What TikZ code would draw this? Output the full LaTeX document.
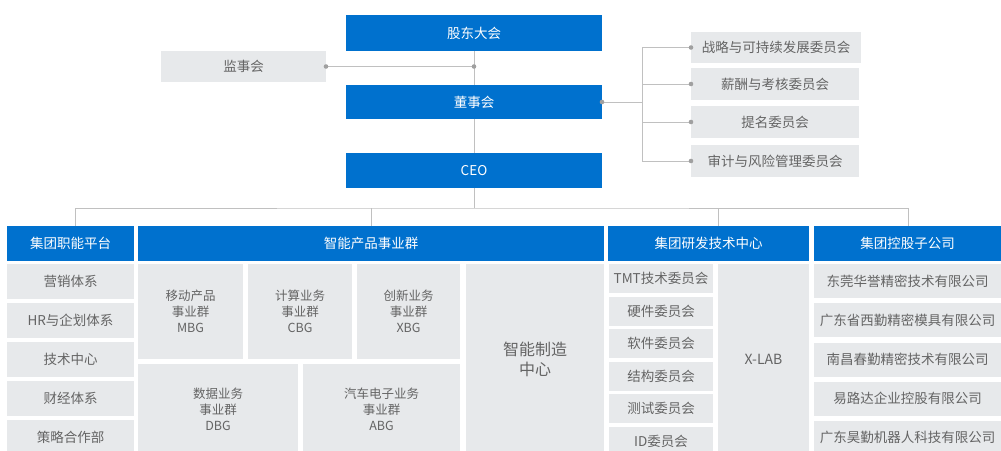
\documentclass[tikz,border=0pt]{standalone}
\usepackage{fontspec}
\setmainfont{Noto Sans CJK SC}
\usetikzlibrary{positioning}
\definecolor{hwblue}{RGB}{0,113,206}
\definecolor{hwgray}{RGB}{231,233,235}
\definecolor{hwtext}{RGB}{100,100,100}
\definecolor{hwline}{RGB}{192,192,192}
\definecolor{hwdot}{RGB}{160,160,160}
\newcommand{\fs}[2]{\fontsize{#1}{#2}\selectfont}
\tikzstyle{every node}=[inner sep=0, outer sep=0, align=center]
\tikzstyle{bluebox}=[fill=hwblue, text=white, font=\fs{13.5}{16}]
\tikzstyle{graybox}=[fill=hwgray, text=hwtext, font=\fs{13.5}{16}]
\tikzstyle{conn}=[hwline, line width=1pt]

\begin{document}
\begin{tikzpicture}[x=1pt, y=-1pt]
    \useasboundingbox (0,0) rectangle (1001,450);
    \node[bluebox, minimum width=256, minimum height=36] (gd) at (474,33) {股东大会};
    \node[graybox, minimum width=165, minimum height=31] (jsh) at (243.5,66.5) {监事会};
    \node[bluebox, minimum width=256, minimum height=34] (dsh) at (474,102) {董事会};
    \node[bluebox, minimum width=256, minimum height=35] (ceo) at (474,170.5) {CEO};
    \coordinate (jct) at (gd.south |- jsh.east);
    \draw[conn] (gd.south) -- (dsh.north);
    \draw[conn] (dsh.south) -- (ceo.north);
    \draw[conn] (jsh.east) -- (jct);
    \fill[hwdot] (jsh.east) circle (2.3);
    \fill[hwdot] (jct) circle (2.3);
    \node[graybox, minimum width=170, minimum height=31] (c1) at (776,47.5) {战略与可持续发展委员会};
    \node[graybox, minimum width=168, minimum height=32] (c2) at (775,84) {薪酬与考核委员会};
    \node[graybox, minimum width=168, minimum height=32] (c3) at (775,122) {提名委员会};
    \node[graybox, minimum width=168, minimum height=32] (c4) at (775,161) {审计与风险管理委员会};
    \coordinate (cb) at (642,102);
    \draw[conn] (dsh.east) -- (cb);
    \draw[conn] (cb |- c1.west) -- (cb |- c4.west);
    \foreach \c in {c1,c2,c3,c4} {
        \draw[conn] (cb |- \c.west) -- (\c.west);
        \fill[hwdot] (\c.west) circle (2.3);
    }
    \fill[hwdot] (dsh.east) circle (2.3);
    \node[bluebox, minimum width=127, minimum height=35] (h1) at (70.5,243.5) {集团职能平台};
    \node[bluebox, minimum width=466, minimum height=35] (h2) at (371,243.5) {智能产品事业群};
    \node[bluebox, minimum width=201, minimum height=35] (h3) at (708.5,243.5) {集团研发技术中心};
    \node[bluebox, minimum width=187, minimum height=35] (h4) at (907.5,243.5) {集团控股子公司};
    \coordinate (bus) at (474,208);
    \draw[conn] (ceo.south) -- (bus);
    \draw[conn] ([xshift=5]h1.north) |- (bus) -| ([xshift=1]h4.north);
    \draw[conn] (h2.north) -- ++(0,-18);
    \draw[conn] ([xshift=10]h3.north) -- ++(0,-18);
    \foreach \t/\y [count=\i] in {营销体系/281, HR与企划体系/320.5, 技术中心/359.5, 财经体系/398.5, 策略合作部/437.5}
        \node[graybox, minimum width=127, minimum height=35] (f\i) at (70.5,\y) {\t};
    \node[graybox, font=\fs{12.5}{16}, minimum width=105, minimum height=95] (mbg) at (190.5,311.5) {移动产品\\事业群\\MBG};
    \node[graybox, font=\fs{12.5}{16}, minimum width=104, minimum height=95] (cbg) at (300,311.5) {计算业务\\事业群\\CBG};
    \node[graybox, font=\fs{12.5}{16}, minimum width=103, minimum height=95] (xbg) at (408.5,311.5) {创新业务\\事业群\\XBG};
    \node[graybox, font=\fs{12.5}{16}, minimum width=160, minimum height=91] (dbg) at (218,409.5) {数据业务\\事业群\\DBG};
    \node[graybox, font=\fs{12.5}{16}, minimum width=157, minimum height=91] (abg) at (381.5,409.5) {汽车电子业务\\事业群\\ABG};
    \node[graybox, font=\fs{16}{20}, minimum width=138, minimum height=191] (imc) at (535,359.5) {智能制造\\中心};
    \foreach \t/\y [count=\i] in {TMT技术委员会/278.5, 硬件委员会/311, 软件委员会/343, 结构委员会/376, 测试委员会/408.5, ID委员会/441}
        \node[graybox, minimum width=104, minimum height=29] (rd\i) at (661,\y) {\t};
    \node[graybox, font=\fs{14}{16}, minimum width=91, minimum height=191] (xlab) at (763.5,359.5) {X-LAB};
    \foreach \t/\y [count=\i] in {东莞华誉精密技术有限公司/281, 广东省西勤精密模具有限公司/320, 南昌春勤精密技术有限公司/359.5, 易路达企业控股有限公司/398.5, 广东昊勤机器人科技有限公司/437.5}
        \node[graybox, minimum width=187, minimum height=34] (s\i) at (907.5,\y) {\t};
\end{tikzpicture}
\end{document}
